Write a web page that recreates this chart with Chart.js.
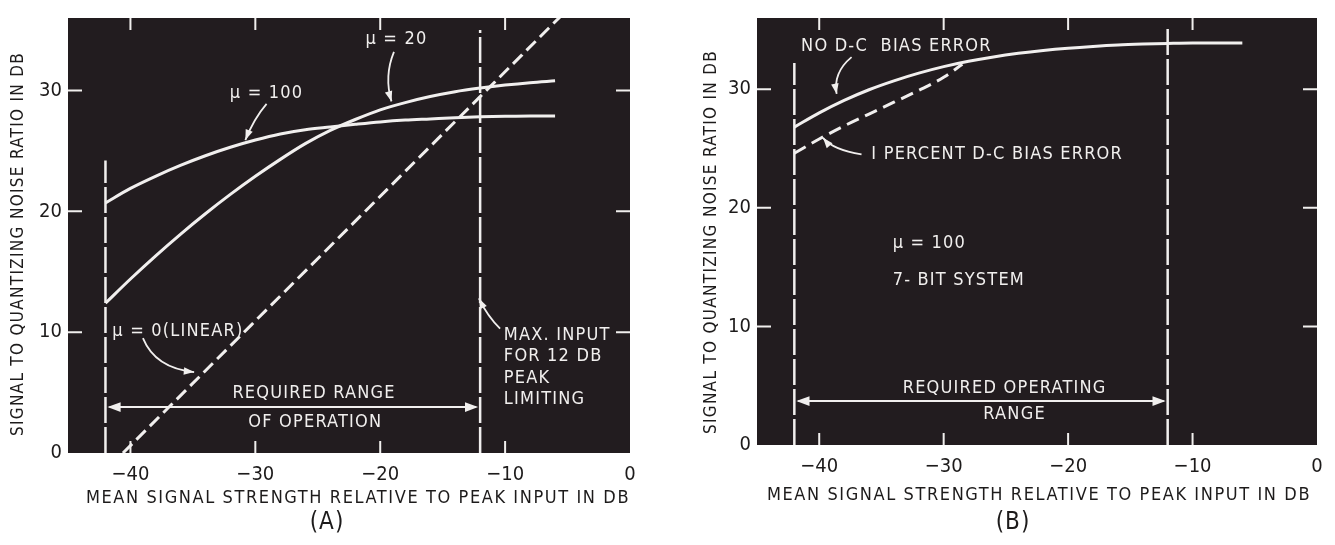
<!DOCTYPE html>
<html>
<head>
<meta charset="utf-8">
<script src="https://cdn.jsdelivr.net/npm/chart.js@4.4.1/dist/chart.umd.min.js"></script>
<style>
  html, body { margin: 0; padding: 0; background: #fff; }
  #wrap { position: relative; width: 1335px; height: 545px; overflow: hidden; }
  canvas { position: absolute; top: 0; }
</style>
</head>
<body>
<div id="wrap">
  <canvas id="chartA" width="668" height="545" style="left:0"></canvas>
  <canvas id="chartB" width="667" height="545" style="left:668px"></canvas>
</div>
<script>
// ---- data ----
const xTickValues = [-40, -30, -20, -10, 0];
const yTickValues = [0, 10, 20, 30];

// (A)
const xA = [-42, -40, -38, -36, -34, -32, -30, -28, -26, -24, -22, -20, -18, -16, -14, -12, -10, -8, -6];
const mu100A = [20.7, 21.9, 22.9, 23.8, 24.6, 25.3, 25.9, 26.4, 26.75, 26.98, 27.2, 27.4, 27.55, 27.65, 27.75, 27.82, 27.87, 27.9, 27.9];
const mu20A = [12.4, 14.4, 16.3, 18.1, 19.8, 21.4, 22.9, 24.3, 25.6, 26.7, 27.6, 28.4, 29.0, 29.5, 29.9, 30.2, 30.45, 30.65, 30.8];
const linearXA = [-40.6, -5.4];
const linearA = [0, 36.3];
const cutoffXA = [-42, -12];
const cutoffTopA = [24.2, 35.0];
const rangeYA = 3.8;

// (B)
const xB = [-42, -40, -38, -36, -34, -32, -30, -28, -26, -24, -22, -20, -18, -16, -14, -12, -10, -8, -6];
const noBiasB = [26.8, 28.0, 29.05, 29.95, 30.7, 31.35, 31.9, 32.35, 32.72, 33.02, 33.26, 33.45, 33.6, 33.72, 33.8, 33.86, 33.9, 33.9, 33.9];
const biasXB = [-42, -40, -38, -36, -34, -32, -30, -28.5];
const biasB = [24.6, 25.8, 26.9, 27.9, 28.9, 29.9, 31.0, 32.1];
const cutoffXB = [-42, -12];
const cutoffTopB = [32.2, 35.2];
const rangeYB = 3.7;

const FONT = '"DejaVu Sans Condensed", "Liberation Sans Narrow", "DejaVu Sans", sans-serif';
const INK = "#f1efee";
const PLOT_BG = "#221c1f";

function pts(xs, ys) {
  return xs.map((x, i) => ({ x, y: ys[i] }));
}

function curve(data, dash) {
  return {
    data, borderColor: INK, borderWidth: 3, borderDash: dash || [],
    pointRadius: 0, showLine: true, fill: false, cubicInterpolationMode: "monotone"
  };
}

function cutoffs(xs, tops) {
  return xs.map((x, i) => ({
    data: [{ x, y: 0 }, { x, y: tops[i] }],
    borderColor: INK, borderWidth: 2.5, borderDash: [26, 4], pointRadius: 0, showLine: true
  }));
}

function arrowHead(ctx, fx, fy, tx, ty, size) {
  const ang = Math.atan2(ty - fy, tx - fx);
  ctx.beginPath();
  ctx.moveTo(tx, ty);
  ctx.lineTo(tx - size * Math.cos(ang - 0.35), ty - size * Math.sin(ang - 0.35));
  ctx.lineTo(tx - size * Math.cos(ang + 0.35), ty - size * Math.sin(ang + 0.35));
  ctx.closePath();
  ctx.fill();
}

// background, inward ticks, notes, arrows and titles
const paperPlugin = {
  id: "paper",
  beforeDraw(chart) {
    const { ctx, chartArea: a } = chart;
    ctx.save();
    ctx.fillStyle = PLOT_BG;
    ctx.fillRect(a.left, a.top, a.right - a.left, a.bottom - a.top);
    ctx.restore();
  },
  afterDraw(chart, args, opts) {
    const { ctx, chartArea: a, scales: { x, y } } = chart;
    ctx.save();
    ctx.strokeStyle = INK;
    ctx.fillStyle = INK;
    ctx.lineWidth = 2;
    // inward ticks on all four sides
    xTickValues.filter(v => v > x.min && v < x.max).forEach(v => {
      const px = x.getPixelForValue(v);
      ctx.beginPath();
      ctx.moveTo(px, a.bottom); ctx.lineTo(px, a.bottom - 12);
      ctx.moveTo(px, a.top); ctx.lineTo(px, a.top + 12);
      ctx.stroke();
    });
    yTickValues.filter(v => v > y.min && v < y.max).forEach(v => {
      const py = y.getPixelForValue(v);
      ctx.beginPath();
      ctx.moveTo(a.left, py); ctx.lineTo(a.left + 14, py);
      ctx.moveTo(a.right, py); ctx.lineTo(a.right - 14, py);
      ctx.stroke();
    });

    // range arrow
    const r = opts.range;
    const ry = y.getPixelForValue(r.y);
    const rx0 = x.getPixelForValue(r.from), rx1 = x.getPixelForValue(r.to);
    ctx.beginPath();
    ctx.moveTo(rx0 + 4, ry); ctx.lineTo(rx1 - 4, ry);
    ctx.stroke();
    arrowHead(ctx, rx0 + 20, ry, rx0 + 2, ry, 14);
    arrowHead(ctx, rx1 - 20, ry, rx1 - 2, ry, 14);

    // leader arrows
    ctx.lineWidth = 1.8;
    opts.arrows.forEach(ar => {
      const f = [x.getPixelForValue(ar.from[0]), y.getPixelForValue(ar.from[1])];
      const c = [x.getPixelForValue(ar.via[0]), y.getPixelForValue(ar.via[1])];
      const t = [x.getPixelForValue(ar.to[0]), y.getPixelForValue(ar.to[1])];
      ctx.beginPath();
      ctx.moveTo(f[0], f[1]);
      ctx.quadraticCurveTo(c[0], c[1], t[0], t[1]);
      ctx.stroke();
      arrowHead(ctx, c[0], c[1], t[0], t[1], 11);
    });

    // notes inside the plot
    ctx.font = "18px " + FONT;
    ctx.letterSpacing = "1.2px";
    ctx.textBaseline = "middle";
    opts.notes.forEach(n => {
      ctx.textAlign = n.align || "center";
      ctx.fillText(n.t, x.getPixelForValue(n.x), y.getPixelForValue(n.y));
    });

    // axis titles and panel letter
    const tt = opts.titles;
    ctx.fillStyle = "#1d1b1b";
    ctx.textAlign = "center";
    ctx.font = "18px " + FONT;
    ctx.letterSpacing = "1.6px";
    ctx.fillText(tt.x, tt.xPos[0], tt.xPos[1]);
    ctx.font = "24px " + FONT;
    ctx.letterSpacing = "1px";
    ctx.fillText(tt.panel, tt.panelPos[0], tt.panelPos[1]);
    ctx.font = "17px " + FONT;
    ctx.letterSpacing = "1.3px";
    ctx.translate(tt.yPos[0], tt.yPos[1]);
    ctx.rotate(-Math.PI / 2);
    ctx.fillText(tt.y, 0, 0);
    ctx.restore();
  }
};

function makeChart(canvas, datasets, padding, yAxisWidth, xAxisHeight, paper) {
  return new Chart(canvas.getContext("2d"), {
    type: "scatter",
    data: { datasets },
    options: {
      responsive: false,
      animation: false,
      devicePixelRatio: 1,
      layout: { padding },
      plugins: { legend: { display: false }, tooltip: { enabled: false }, paper },
      scales: {
        x: {
          type: "linear", min: -45, max: 0,
          grid: { display: false, drawTicks: false },
          border: { display: false },
          ticks: {
            stepSize: 10, includeBounds: false, padding: 10, color: "#1d1b1b",
            font: { family: FONT, size: 20 }, maxRotation: 0,
            callback: v => (v < 0 ? "\u2212" + Math.abs(v) : String(v))
          },
          afterFit: s => { s.height = xAxisHeight; }
        },
        y: {
          type: "linear", min: 0, max: 36,
          grid: { display: false, drawTicks: false },
          border: { display: false },
          ticks: {
            stepSize: 10, includeBounds: false, padding: 6, color: "#1d1b1b",
            font: { family: FONT, size: 20 }
          },
          afterFit: s => { s.width = yAxisWidth; }
        }
      }
    },
    plugins: [paperPlugin]
  });
}

const X_TITLE = "MEAN SIGNAL STRENGTH RELATIVE TO PEAK INPUT IN DB";
const Y_TITLE = "SIGNAL TO QUANTIZING NOISE RATIO IN DB";

makeChart(
  document.getElementById("chartA"),
  [
    curve(pts(xA, mu100A)),
    curve(pts(xA, mu20A)),
    curve(pts(linearXA, linearA), [13, 6]),
    ...cutoffs(cutoffXA, cutoffTopA)
  ],
  { left: 20, right: 38, top: 17, bottom: 0 }, 48, 92,
  {
    range: { from: cutoffXA[0], to: cutoffXA[1], y: rangeYA },
    arrows: [
      { from: [-18.9, 33.2], via: [-19.7, 31.2], to: [-19.1, 29.1] },
      { from: [-29.1, 28.9], via: [-30.1, 27.7], to: [-30.8, 25.9] },
      { from: [-39.0, 9.5], via: [-38.0, 7.0], to: [-34.9, 6.7] },
      { from: [-10.4, 10.3], via: [-11.4, 11.3], to: [-12.1, 12.8] }
    ],
    notes: [
      { t: "\u03bc = 20", x: -18.7, y: 34.2 },
      { t: "\u03bc = 100", x: -29.1, y: 29.8 },
      { t: "\u03bc = 0(LINEAR)", x: -36.2, y: 10.1 },
      { t: "REQUIRED RANGE", x: -25.3, y: 4.9 },
      { t: "OF OPERATION", x: -25.2, y: 2.55 },
      { t: "MAX. INPUT", x: -10.1, y: 9.7, align: "left" },
      { t: "FOR 12 DB", x: -10.1, y: 8.0, align: "left" },
      { t: "PEAK", x: -10.1, y: 6.2, align: "left" },
      { t: "LIMITING", x: -10.1, y: 4.45, align: "left" }
    ],
    titles: {
      x: X_TITLE, xPos: [358, 498],
      y: Y_TITLE, yPos: [19, 244],
      panel: "(A)", panelPos: [327, 523]
    }
  }
);

makeChart(
  document.getElementById("chartB"),
  [
    curve(pts(xB, noBiasB)),
    curve(pts(biasXB, biasB), [13, 7]),
    ...cutoffs(cutoffXB, cutoffTopB)
  ],
  { left: 41, right: 18, top: 8, bottom: 0 }, 48, 100,
  {
    range: { from: cutoffXB[0], to: cutoffXB[1], y: rangeYB },
    arrows: [
      { from: [-37.4, 32.7], via: [-38.9, 31.4], to: [-38.6, 29.6] },
      { from: [-36.6, 24.5], via: [-38.9, 24.9], to: [-39.7, 25.9] }
    ],
    notes: [
      { t: "NO D-C  BIAS ERROR", x: -33.8, y: 33.6 },
      { t: "I PERCENT D-C BIAS ERROR", x: -25.7, y: 24.5 },
      { t: "\u03bc = 100", x: -34.1, y: 17.0, align: "left" },
      { t: "7- BIT SYSTEM", x: -34.1, y: 13.85, align: "left" },
      { t: "REQUIRED OPERATING", x: -25.1, y: 4.8 },
      { t: "RANGE", x: -24.3, y: 2.6 }
    ],
    titles: {
      x: X_TITLE, xPos: [371, 495],
      y: Y_TITLE, yPos: [44, 242],
      panel: "(B)", panelPos: [345, 523]
    }
  }
);
</script>
</body>
</html>
